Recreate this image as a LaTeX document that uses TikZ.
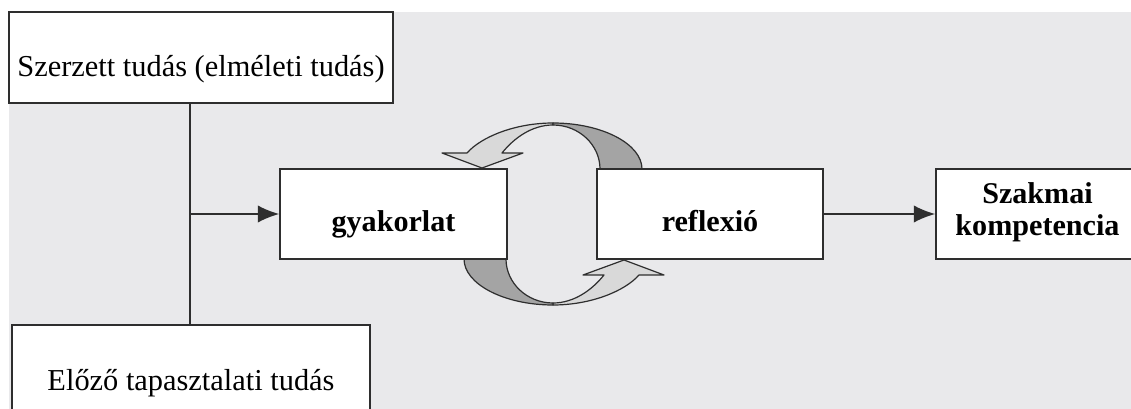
\documentclass[tikz,border=0pt]{standalone}
\usepackage{fontspec}
\setmainfont{Liberation Serif}
\usetikzlibrary{arrows.meta}
\definecolor{bggray}{HTML}{E9E9EB}
\definecolor{linec}{HTML}{2E2E2E}
\definecolor{darkfill}{HTML}{A4A4A4}
\definecolor{lightfill}{HTML}{D9D9D9}
\tikzset{
  box/.style={draw=linec, line width=1.2pt, fill=white, rectangle, inner sep=0pt, text depth=0pt,
    font=\fontsize{22.8}{28}\selectfont},
  boldbox/.style={box, font=\fontsize{22.6}{28}\selectfont\bfseries},
  conn/.style={draw=linec, line width=1.2pt},
  arr/.style={conn, -{Latex[length=16pt,width=13pt]}},
  cyc/.style={draw=linec, line width=0.9pt, line join=round}
}
\begin{document}
\begin{tikzpicture}[x=0.75pt, y=-0.75pt]
\clip (0,0) rectangle (1131,409);
\fill[white] (0,0) rectangle (1131,409);
\fill[bggray] (9,12) rectangle (1131,409);

% circular arrows
\newcommand{\cycarrow}{%
  \filldraw[cyc, fill=lightfill] (553,123) .. controls (515,123) and (481,137) .. (467,153)
     -- (442,153) -- (482,168) -- (523,153) -- (502,153)
     .. controls (514,138) and (532,125) .. (553,125) -- cycle;
  \filldraw[cyc, fill=darkfill] (642,169) .. controls (642,144) and (602,123) .. (553,123)
     -- (553,125) .. controls (579,125) and (600,145) .. (600,169) -- cycle;}
\cycarrow
\begin{scope}[rotate around={180:(553,214)}]
\cycarrow
\end{scope}

\node[box, minimum width=288pt, minimum height=68.25pt, text height=29.25pt] (top) at (201,57.5) {Szerzett tudás (elméleti tudás)};
\node[box, minimum width=268.5pt, minimum height=90pt, text height=7.5pt] (bot) at (191,385) {Előző tapasztalati tudás};
\node[boldbox, minimum width=170.25pt, minimum height=67.5pt, text height=27pt] (gyak) at (393.5,214) {gyakorlat};
\node[boldbox, minimum width=169.5pt, minimum height=67.5pt, text height=27pt] (refl) at (710,214) {reflexió};
\node[box, minimum width=152.25pt, minimum height=67.5pt] (szak) at (1037.5,214) {};
\node[font=\fontsize{22.6}{24}\selectfont\bfseries, align=center, inner sep=0pt] (szaktxt) at (1037.5,212) {Szakmai\\kompetencia};

\coordinate (j) at (190,214);
\draw[conn] (top.south -| j) -- (bot.north -| j);
\draw[arr] (j) -- (gyak.west);
\draw[arr] (refl.east) -- (szak.west);
\end{tikzpicture}
\end{document}
